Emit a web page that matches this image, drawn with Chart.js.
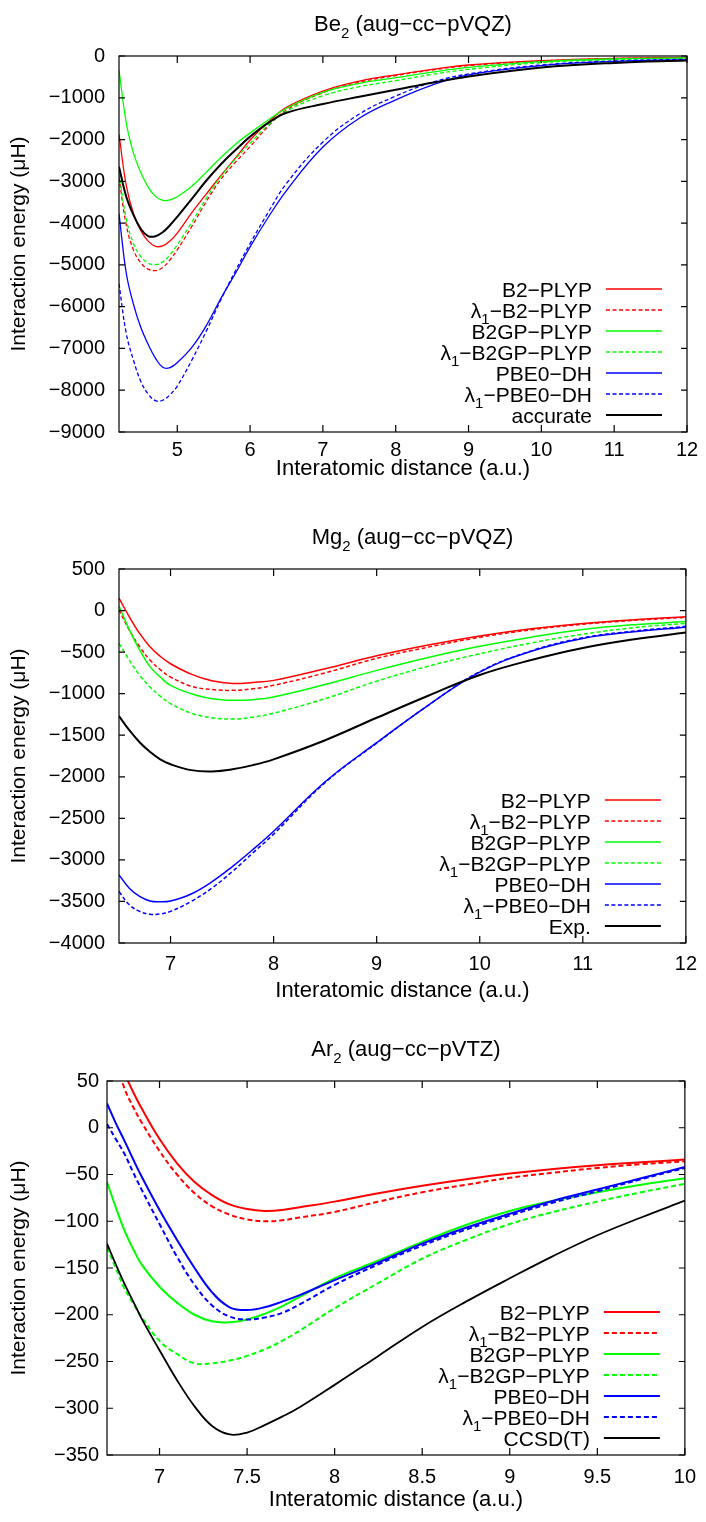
<!DOCTYPE html>
<html>
<head>
<meta charset="utf-8">
<script src="https://cdn.jsdelivr.net/npm/chart.js@4.4.0/dist/chart.umd.min.js"></script>
<style>
  html, body { margin: 0; padding: 0; background: #fff; }
  .panel { position: absolute; left: 0; width: 706px; }
</style>
</head>
<body>
<div class="panel" style="top:0px"><canvas id="be2" width="706" height="500"></canvas></div>
<div class="panel" style="top:505px"><canvas id="mg2" width="706" height="505"></canvas></div>
<div class="panel" style="top:1015px"><canvas id="ar2" width="706" height="507"></canvas></div>
<script>
// ---------- data ----------
const methodLabels = ['B2−PLYP', 'λ_1−B2−PLYP', 'B2GP−PLYP', 'λ_1−B2GP−PLYP', 'PBE0−DH', 'λ_1−PBE0−DH'];

// Be2
const be2X = [4.2, 4.3, 4.4, 4.5, 4.6, 4.7, 4.8, 4.9, 5.0, 5.2, 5.4, 5.6, 5.8, 6.0, 6.25, 6.5, 7, 7.5, 8, 8.5, 9, 10, 11, 12];
const be2B2plyp    = [-1876, -3100, -3780, -4180, -4430, -4555, -4545, -4430, -4240, -3750, -3300, -2860, -2440, -2010, -1580, -1230, -840, -600, -450, -320, -215, -112, -56, -32];
const be2L1B2plyp  = [-2900, -4050, -4650, -4950, -5100, -5135, -5060, -4880, -4640, -4080, -3480, -2950, -2540, -2170, -1680, -1290, -880, -630, -470, -335, -230, -120, -62, -36];
const be2B2gpplyp  = [-335, -1600, -2330, -2790, -3140, -3360, -3455, -3445, -3370, -3120, -2780, -2430, -2110, -1840, -1530, -1250, -870, -655, -520, -385, -271, -136, -72, -45];
const be2L1B2gpplyp= [-2800, -3900, -4500, -4800, -4960, -4995, -4930, -4760, -4520, -3980, -3400, -2880, -2460, -2090, -1650, -1320, -950, -735, -590, -440, -320, -160, -88, -50];
const be2Pbe0dh    = [-3770, -5200, -5950, -6500, -6900, -7230, -7450, -7460, -7340, -6975, -6450, -5800, -5200, -4570, -3860, -3220, -2180, -1490, -1050, -695, -450, -230, -130, -85];
const be2L1Pbe0dh  = [-5450, -6640, -7290, -7790, -8090, -8250, -8240, -8110, -7900, -7280, -6580, -5830, -5140, -4490, -3740, -3050, -2060, -1390, -960, -630, -430, -215, -120, -78];
const be2Accurate  = [-2650, -3370, -3810, -4140, -4310, -4315, -4220, -4050, -3850, -3420, -2980, -2590, -2250, -1930, -1600, -1360, -1150, -975, -810, -640, -490, -275, -165, -110];

// Mg2
const mg2X = [6.5, 6.6, 6.7, 6.8, 6.9, 7.0, 7.2, 7.4, 7.6, 7.8, 8.0, 8.5, 9, 9.5, 10, 10.5, 11, 11.5, 12];
const mg2B2plyp    = [150, -75, -275, -435, -550, -640, -765, -845, -878, -865, -840, -700, -545, -415, -306, -220, -155, -110, -75];
const mg2L1B2plyp  = [10, -235, -435, -595, -710, -800, -910, -950, -960, -942, -900, -750, -575, -440, -322, -232, -165, -118, -82];
const mg2B2gpplyp  = [55, -230, -475, -675, -800, -900, -1000, -1060, -1080, -1072, -1040, -890, -720, -565, -430, -320, -228, -170, -133];
const mg2L1B2gpplyp= [-395, -597, -778, -920, -1030, -1120, -1234, -1290, -1305, -1283, -1235, -1060, -850, -670, -520, -390, -285, -205, -153];
const mg2Pbe0dh    = [-3180, -3340, -3440, -3495, -3505, -3495, -3410, -3265, -3080, -2875, -2655, -2060, -1590, -1140, -740, -490, -335, -255, -200];
const mg2L1Pbe0dh  = [-3380, -3540, -3620, -3655, -3650, -3620, -3500, -3340, -3140, -2915, -2690, -2070, -1595, -1140, -735, -485, -328, -247, -190];
const mg2Exp       = [-1270, -1440, -1585, -1700, -1790, -1850, -1920, -1935, -1910, -1860, -1790, -1560, -1290, -1025, -775, -595, -450, -345, -265];

// Ar2
const ar2X = [6.7, 6.75, 6.8, 6.85, 6.9, 7.0, 7.1, 7.2, 7.3, 7.4, 7.5, 7.6, 7.7, 7.8, 8.0, 8.25, 8.5, 8.75, 9, 9.25, 9.5, 9.75, 10];
const ar2B2plyp    = [null, null, 58, 38, 20, -12, -38, -58, -72, -82, -87, -89, -88, -85, -79, -70, -62, -55, -49, -44, -40, -37, -34];
const ar2L1B2plyp  = [null, 72, 42, 22, 5, -25, -50, -70, -84, -93, -98, -100, -99, -96, -90, -79, -69, -61, -53.5, -48, -43, -39, -36];
const ar2B2gpplyp  = [-58, -85, -110, -130, -147, -170, -187, -200, -207, -208, -205, -199, -191, -181, -161, -142, -122, -104, -89, -78, -69, -61, -54];
const ar2L1B2gpplyp= [-128, -150, -172, -188, -203, -228, -242, -252, -252, -249, -244, -237, -228, -217, -193, -166, -140, -120, -103, -90, -79, -69, -60];
const ar2Pbe0dh    = [26, 5, -14, -34, -53, -88, -120, -150, -176, -192, -195, -192, -186, -179, -163, -144, -124, -107, -92, -78, -66, -54, -42];
const ar2L1Pbe0dh  = [4, -12, -28, -48, -67, -103, -138, -168, -190, -202, -205, -203, -198, -189, -168, -146, -126, -109, -94, -80, -68, -55, -43];
const ar2Ccsdt     = [-124, -146, -167, -186, -205, -238, -270, -298, -319, -328, -326, -318, -309, -299, -275, -244, -213, -186, -161, -137, -115, -96, -78];

// ---------- styling ----------
const FONT = '"Liberation Sans", Arial, Helvetica, sans-serif';
const seriesColors = ['#ff0000', '#ff0000', '#00ff00', '#00ff00', '#0000ff', '#0000ff', '#000000'];
const seriesDashed = [false, true, false, true, false, true, false];

Chart.defaults.color = '#000';
Chart.defaults.font.family = FONT;

// draw text where "_c" makes c a subscript
function drawRich(ctx, str, x, y, align, size) {
  const parts = [];
  for (let i = 0; i < str.length; i++) {
    if (str[i] === '_' && i + 1 < str.length) { parts.push({ t: str[i + 1], sub: true }); i++; }
    else {
      if (parts.length && !parts[parts.length - 1].sub) parts[parts.length - 1].t += str[i];
      else parts.push({ t: str[i], sub: false });
    }
  }
  const subSize = Math.round(size * 0.7);
  let total = 0;
  parts.forEach(p => {
    ctx.font = (p.sub ? subSize : size) + 'px ' + FONT;
    p.w = ctx.measureText(p.t).width;
    total += p.w;
  });
  let cx = align === 'right' ? x - total : align === 'center' ? x - total / 2 : x;
  ctx.textAlign = 'left';
  ctx.textBaseline = 'alphabetic';
  ctx.fillStyle = '#000';
  parts.forEach(p => {
    ctx.font = (p.sub ? subSize : size) + 'px ' + FONT;
    ctx.fillText(p.t, cx, p.sub ? y + size * 0.33 : y);
    cx += p.w;
  });
}

const gnuFrame = {
  id: 'gnuFrame',
  afterDatasetsDraw(chart, args, opts) {
    const { ctx, chartArea: a, scales } = chart;
    ctx.save();
    ctx.strokeStyle = '#000';
    ctx.lineWidth = 1.2;
    ctx.setLineDash([]);
    const tl = 7;
    ctx.beginPath();
    scales.x.ticks.forEach(t => {
      const px = scales.x.getPixelForValue(t.value);
      ctx.moveTo(px, a.bottom); ctx.lineTo(px, a.bottom - tl);
      ctx.moveTo(px, a.top); ctx.lineTo(px, a.top + tl);
    });
    scales.y.ticks.forEach(t => {
      const py = scales.y.getPixelForValue(t.value);
      ctx.moveTo(a.left, py); ctx.lineTo(a.left + tl - 1, py);
      ctx.moveTo(a.right, py); ctx.lineTo(a.right - tl + 1, py);
    });
    ctx.stroke();
    ctx.strokeRect(a.left, a.top, a.right - a.left, a.bottom - a.top);

    // title, sits a little right of the plot centre as in the original
    drawRich(ctx, opts.title, (a.left + a.right) / 2 + 10, a.top - 25, 'center', 22);

    // key
    const ds = chart.data.datasets;
    const step = 21;
    const lastY = a.bottom - 17;
    ds.forEach((d, i) => {
      const y = lastY - (ds.length - 1 - i) * step;
      drawRich(ctx, d.label, a.right - 95, y + 7.5, 'right', 21);
      ctx.beginPath();
      ctx.strokeStyle = d.borderColor;
      ctx.lineWidth = d.borderWidth;
      ctx.setLineDash(d.borderDash || []);
      ctx.moveTo(a.right - 81, y);
      ctx.lineTo(a.right - 25, y);
      ctx.stroke();
    });
    ctx.restore();
  }
};

function makePanel(id, cfg) {
  const labels = methodLabels.concat([cfg.refLabel]);
  const datasets = cfg.series.map((ys, i) => ({
    label: labels[i],
    data: cfg.xs.map((x, j) => ({ x: x, y: ys[j] })),
    borderColor: seriesColors[i],
    borderWidth: i === 6 ? cfg.refWidth : cfg.lineWidth,
    borderDash: seriesDashed[i] ? cfg.dash : [],
    pointRadius: 0,
    fill: false,
    tension: 0.4,
    order: 10 - i
  }));
  const g = cfg.geom;
  new Chart(document.getElementById(id), {
    type: 'line',
    data: { datasets: datasets },
    plugins: [gnuFrame],
    options: {
      responsive: false,
      maintainAspectRatio: false,
      animation: false,
      layout: { padding: { top: g.top, right: 706 - g.right, bottom: 0, left: 0 } },
      plugins: {
        legend: { display: false },
        tooltip: { enabled: false },
        gnuFrame: { title: cfg.title }
      },
      scales: {
        x: {
          type: 'linear',
          min: cfg.xMin, max: cfg.xMax,
          grid: { display: false, drawTicks: false },
          border: { display: false },
          ticks: {
            stepSize: cfg.xStep, includeBounds: false, padding: g.xTickPad,
            font: { size: 20 }, color: '#000', maxRotation: 0,
            callback: v => String(Math.round(v * 10) / 10)
          },
          title: {
            display: true, text: 'Interatomic distance (a.u.)', color: '#000',
            font: { size: 22 }, padding: { top: 0, bottom: g.xTitlePad }
          },
          afterFit: s => { s.height = g.canvasH - g.bottom; }
        },
        y: {
          type: 'linear',
          min: cfg.yMin, max: cfg.yMax,
          grid: { display: false, drawTicks: false },
          border: { display: false },
          ticks: {
            stepSize: cfg.yStep, padding: g.yTickPad,
            font: { size: 20 }, color: '#000',
            callback: v => v < 0 ? '\u2212' + (-v) : String(v)
          },
          title: {
            display: true, text: 'Interaction energy (\u03bcH)', color: '#000',
            font: { size: 21 }, padding: { top: 7, bottom: 0 }
          },
          afterFit: s => { s.width = g.left; }
        }
      }
    }
  });
}

makePanel('be2', {
  title: 'Be_2 (aug−cc−pVQZ)', refLabel: 'accurate',
  xs: be2X,
  series: [be2B2plyp, be2L1B2plyp, be2B2gpplyp, be2L1B2gpplyp, be2Pbe0dh, be2L1Pbe0dh, be2Accurate],
  xMin: 4.2, xMax: 12, xStep: 1, yMin: -9000, yMax: 0, yStep: 1000,
  lineWidth: 1.3, refWidth: 2, dash: [4, 2.5],
  geom: { canvasH: 500, left: 119, right: 687, top: 56, bottom: 432, xTickPad: 6, xTitlePad: 18, yTickPad: 14 }
});

makePanel('mg2', {
  title: 'Mg_2 (aug−cc−pVQZ)', refLabel: 'Exp.',
  xs: mg2X,
  series: [mg2B2plyp, mg2L1B2plyp, mg2B2gpplyp, mg2L1B2gpplyp, mg2Pbe0dh, mg2L1Pbe0dh, mg2Exp],
  xMin: 6.5, xMax: 12, xStep: 1, yMin: -4000, yMax: 500, yStep: 500,
  lineWidth: 1.5, refWidth: 2, dash: [4, 2.5],
  geom: { canvasH: 505, left: 119, right: 687, top: 64, bottom: 438, xTickPad: 9, xTitlePad: 6, yTickPad: 14 }
});

makePanel('ar2', {
  title: 'Ar_2 (aug−cc−pVTZ)', refLabel: 'CCSD(T)',
  xs: ar2X,
  series: [ar2B2plyp, ar2L1B2plyp, ar2B2gpplyp, ar2L1B2gpplyp, ar2Pbe0dh, ar2L1Pbe0dh, ar2Ccsdt],
  xMin: 6.7, xMax: 10, xStep: 0.5, yMin: -350, yMax: 50, yStep: 50,
  lineWidth: 2, refWidth: 1.8, dash: [5, 3],
  geom: { canvasH: 507, left: 107, right: 687, top: 66, bottom: 440, xTickPad: 10, xTitlePad: 9, yTickPad: 8 }
});
</script>
</body>
</html>
